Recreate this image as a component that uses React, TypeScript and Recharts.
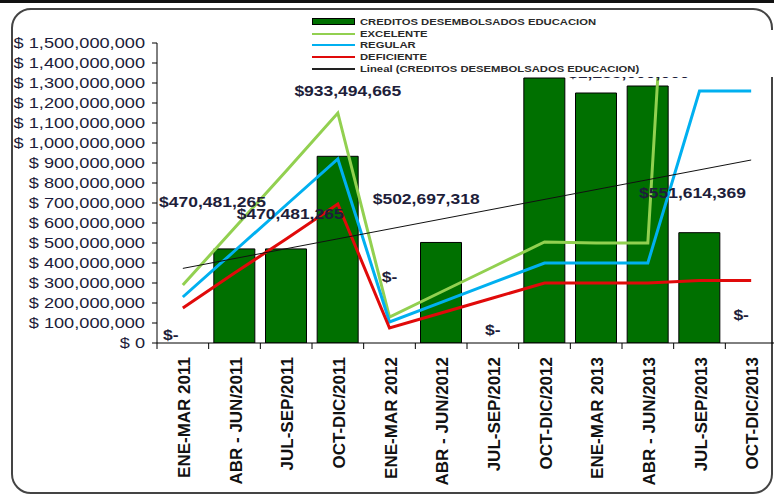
import { ComposedChart, Bar, Line, XAxis, YAxis, Legend, LabelList } from 'recharts';

const periods = [
    'ENE-MAR 2011', 'ABR - JUN/2011', 'JUL-SEP/2011', 'OCT-DIC/2011',
    'ENE-MAR 2012', 'ABR - JUN/2012', 'JUL-SEP/2012', 'OCT-DIC/2012',
    'ENE-MAR 2013', 'ABR - JUN/2013', 'JUL-SEP/2013', 'OCT-DIC/2013',
];
const creditos = [0, 470481265, 470481265, 933494665, 0, 502697318, 0, 1325000000, 1250000000, 1285000000, 551614369, 0];
const excelente = [290e6, 575e6, 860e6, 1150e6, 130e6, 255e6, 380e6, 505e6, 500e6, 500e6, 4800e6, null];
const regular = [230e6, 460e6, 690e6, 920e6, 105e6, 203e6, 302e6, 400e6, 400e6, 400e6, 1260e6, 1260e6];
const deficiente = [175e6, 350e6, 520e6, 695e6, 75e6, 150e6, 225e6, 300e6, 300e6, 300e6, 312e6, 312e6];
const tendencia = [373e6, null, null, null, null, null, null, null, null, null, null, 915e6];
const yTicks = [
    0, 100e6, 200e6, 300e6, 400e6, 500e6, 600e6, 700e6,
    800e6, 900e6, 1000e6, 1100e6, 1200e6, 1300e6, 1400e6, 1500e6,
];
const legendNames = [
    'CREDITOS DESEMBOLSADOS EDUCACION',
    'EXCELENTE',
    'REGULAR',
    'DEFICIENTE',
    'Lineal (CREDITOS DESEMBOLSADOS EDUCACION)',
];

// where Excel left each data label, relative to the top centre of its bar
const labelOffsets: ([number, number] | null)[] = [
    [-12, -3], [-22, -42], [4, -30], [10, -60], [0, -61], [-15, -38],
    [0, -8], null, null, [-19, -8], [-7, -35], [-10, -23],
];

const data = periods.map((period, i) => ({
    period,
    creditos: creditos[i],
    excelente: excelente[i],
    regular: regular[i],
    deficiente: deficiente[i],
    tendencia: tendencia[i],
}));

const FONT = '"Liberation Sans", Arial, sans-serif';
const CHART_W = 800;
const CHART_H = 494;
const Y_AXIS_W = 157;
const RIGHT = 23;
const BAND = (CHART_W - Y_AXIS_W - RIGHT) / periods.length;

const GREEN_BAR = '#007000';
const LIGHT_GREEN = '#92D050';
const BLUE = '#00B0F0';
const RED = '#E00A0A';

const money = (v: number) => (v === 0 ? '$-' : '$' + v.toLocaleString('en-US'));

const YTick = ({ x, y, payload }: any) => (
    <text
        transform={`translate(${x},${y}) scale(1.3,1)`}
        textAnchor="end"
        dy="0.36em"
        fontSize={14}
        fontFamily={FONT}
        fill="#1c1c3a"
    >
        {'$ ' + Number(payload.value).toLocaleString('en-US')}
    </text>
);

const XTick = ({ x, y, payload }: any) => (
    <g>
        <line x1={x - BAND / 2} x2={x - BAND / 2} y1={y - 8} y2={y - 2} stroke="#000" />
        <text
            transform={`translate(${x + 7},${y + 6}) rotate(-90)`}
            textAnchor="end"
            fontSize={17}
            fontWeight="bold"
            fontFamily={FONT}
            fill="#111"
        >
            {payload.value}
        </text>
    </g>
);

// label drawn from the point at the top centre of each bar
const BarLabel = ({ x, y, value, index }: any) => {
    const off = labelOffsets[index];
    if (!off) return null;
    const cx = Number(x) + off[0];
    const by = Number(y) + off[1];
    return (
        <text
            transform={`translate(${cx},${by}) scale(1.25,1)`}
            textAnchor="middle"
            fontSize={14}
            fontWeight="bold"
            fontFamily={FONT}
            fill="#1e1e3a"
        >
            {money(Number(value))}
        </text>
    );
};

const LegendBox = () => {
    const swatches = [
        <div style={{ width: 41, height: 5, background: GREEN_BAR, border: '1.5px solid #000' }} />,
        <div style={{ width: 43, height: 2, background: LIGHT_GREEN }} />,
        <div style={{ width: 43, height: 2, background: BLUE }} />,
        <div style={{ width: 43, height: 2, background: RED }} />,
        <div style={{ width: 43, height: 2, background: '#222' }} />,
    ];
    return (
        <div style={{ fontFamily: FONT }}>
            {legendNames.map((name, i) => (
                <div key={name} style={{ display: 'flex', alignItems: 'center', height: 11.7 }}>
                    <div style={{ width: 48, display: 'flex', alignItems: 'center' }}>{swatches[i]}</div>
                    <span
                        style={{
                            display: 'inline-block',
                            fontSize: 9,
                            fontWeight: 'bold',
                            color: '#2a2a2a',
                            transform: 'scale(1.25,1)',
                            transformOrigin: 'left center',
                            whiteSpace: 'nowrap',
                        }}
                    >
                        {name}
                    </span>
                </div>
            ))}
        </div>
    );
};

export default function App() {
    return (
        <div
            style={{
                position: 'fixed',
                left: 0,
                top: 0,
                width: 774,
                height: 494,
                overflow: 'hidden',
                background: '#fff',
            }}
        >
            <div style={{ position: 'absolute', left: 0, top: 0, width: 774, height: 3, background: '#111' }} />
            <div
                style={{
                    position: 'absolute',
                    left: 11,
                    top: 8,
                    width: 758,
                    height: 482,
                    border: '2px solid #444',
                    borderRadius: 20,
                }}
            />
            <ComposedChart
                width={CHART_W}
                height={CHART_H}
                data={data}
                margin={{ top: 43, right: RIGHT, bottom: 0, left: 0 }}
            >
                <XAxis
                    dataKey="period"
                    interval={0}
                    height={151}
                    tickLine={false}
                    tickSize={6}
                    tickMargin={2}
                    axisLine={{ stroke: '#000' }}
                    tick={<XTick />}
                />
                <YAxis
                    type="number"
                    domain={[0, 1500000000]}
                    ticks={yTicks}
                    interval={0}
                    allowDataOverflow
                    width={Y_AXIS_W}
                    tickSize={5}
                    tickMargin={7}
                    axisLine={{ stroke: '#000' }}
                    tickLine={{ stroke: '#000' }}
                    tick={<YTick />}
                />
                <Legend
                    layout="vertical"
                    align="center"
                    verticalAlign="middle"
                    content={<LegendBox />}
                    wrapperStyle={{ position: 'absolute', left: 312, top: 16, width: 340, zIndex: 3 }}
                />
                <Bar
                    dataKey="creditos"
                    name={legendNames[0]}
                    fill={GREEN_BAR}
                    stroke="#000"
                    strokeWidth={1}
                    barCategoryGap="18%"
                    isAnimationActive={false}
                />
                <Line dataKey="excelente" name={legendNames[1]} type="linear" stroke={LIGHT_GREEN} strokeWidth={3} dot={false} activeDot={false} isAnimationActive={false} />
                <Line dataKey="regular" name={legendNames[2]} type="linear" stroke={BLUE} strokeWidth={3} dot={false} activeDot={false} isAnimationActive={false} />
                <Line dataKey="deficiente" name={legendNames[3]} type="linear" stroke={RED} strokeWidth={3} dot={false} activeDot={false} isAnimationActive={false} />
                <Line dataKey="tendencia" name={legendNames[4]} type="linear" stroke="#111" strokeWidth={1} dot={false} activeDot={false} connectNulls isAnimationActive={false} />
                {/* invisible series carrying the bar value labels, so the $- of empty quarters are kept */}
                <Line dataKey="creditos" legendType="none" stroke="none" dot={false} activeDot={false} isAnimationActive={false}>
                    <LabelList dataKey="creditos" content={<BarLabel />} />
                </Line>
            </ComposedChart>
            {/* Excel clips the series a little below the top tick */}
            <div style={{ position: 'absolute', left: 158, top: 30, width: 620, height: 47, background: '#fff', zIndex: 2 }} />
        </div>
    );
}
